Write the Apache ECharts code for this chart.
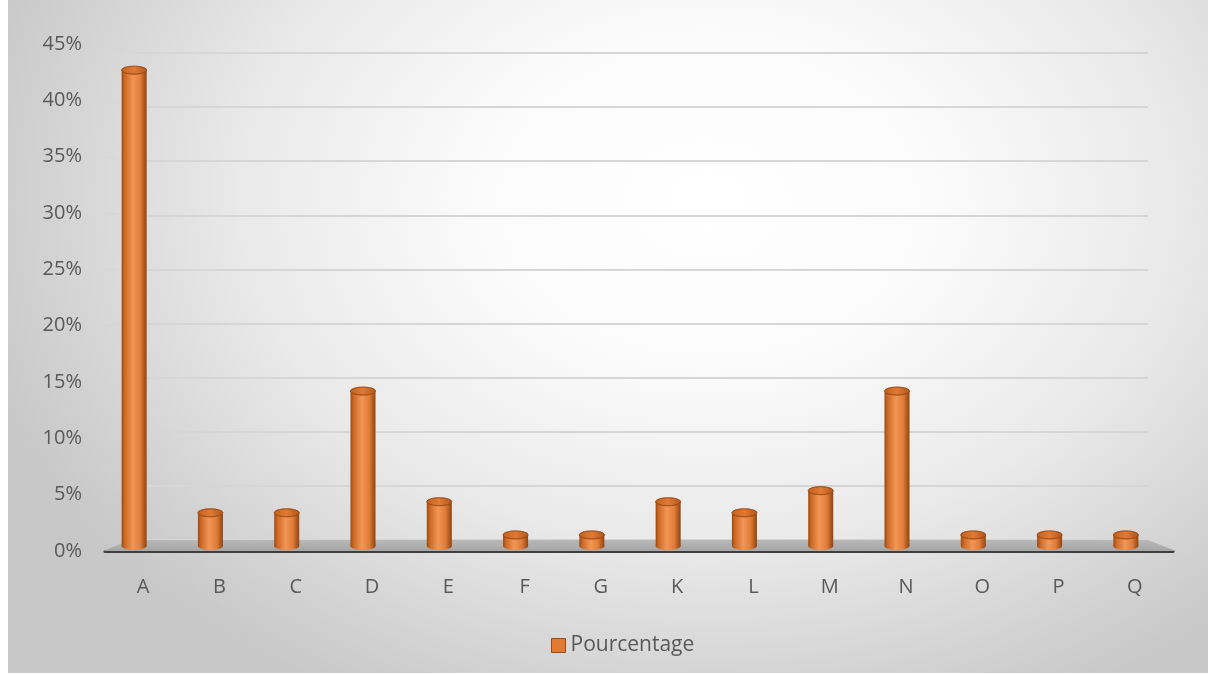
<!DOCTYPE html>
<html>
<head>
<meta charset="utf-8">
<script src="https://cdn.jsdelivr.net/npm/echarts@6/dist/echarts.min.js"></script>
<style>
html,body{margin:0;padding:0;background:#fff;}
#bg{position:absolute;left:8px;top:0;width:1200px;height:673px;
background:radial-gradient(ellipse 760px 560px at 700px 200px,#ffffff 0%,#fbfbfb 30%,#e9e9e9 62%,#d2d2d2 88%,#c8c8c8 100%);}
#chart{position:absolute;left:0;top:0;width:1208px;height:675px;}
</style>
</head>
<body>
<div id="bg"></div>
<div id="chart"></div>
<script>
const categories = ['A','B','C','D','E','F','G','K','L','M','N','O','P','Q'];
const pourcentage = [0.43,0.03,0.03,0.14,0.04,0.01,0.01,0.04,0.03,0.05,0.14,0.01,0.01,0.01];
const seriesName = 'Pourcentage';
const yMax = 0.45, yStep = 0.05;

const chart = echarts.init(document.getElementById('chart'), null, {renderer:'canvas'});
const txt = '#595959';
const font = '"Open Sans", "Noto Sans", sans-serif';

const bodyGrad = new echarts.graphic.LinearGradient(0,0,1,0,[
  {offset:0,color:'#9a4913'},{offset:0.12,color:'#cc6824'},{offset:0.45,color:'#f29656'},
  {offset:0.75,color:'#e07c38'},{offset:1,color:'#8f430e'}]);
const topGrad = new echarts.graphic.LinearGradient(0,0,1,0,[
  {offset:0,color:'#c0611f'},{offset:0.5,color:'#e07a35'},{offset:1,color:'#b0561b'}]);

function renderItem(params, api){
  const base = api.coord([api.value(0),0]);
  const top = api.coord([api.value(0),api.value(1)]);
  const w = 25, rx = w/2, ry = 4;
  const x = base[0];
  return {type:'group', children:[
    {type:'circle', x:x, y:base[1], scaleY:ry/rx, shape:{cx:0,cy:0,r:rx}, style:{fill:bodyGrad}},
    {type:'rect', shape:{x:x-rx, y:top[1], width:w, height:base[1]-top[1]}, style:{fill:bodyGrad}},
    {type:'circle', x:x, y:top[1], scaleY:ry/rx, shape:{cx:0,cy:0,r:rx}, style:{fill:topGrad, stroke:'#9a4a14', lineWidth:1}}
  ]};
}

const option = {
  animation:false,
  textStyle:{fontFamily:font},
  grid:[
    {left:105, right:35, top:44, bottom:124},
    {left:130, right:60, top:53, bottom:135},
    {left:96, right:44, top:48, bottom:129}
  ],
  xAxis:[
    {type:'category', gridIndex:0, data:categories,
     axisLine:{lineStyle:{color:'#3f3f3f', width:3}}, axisTick:{show:false},
     axisLabel:{color:txt, fontSize:20, margin:26, fontFamily:font}},
    {type:'category', gridIndex:1, data:categories, show:false},
    {type:'category', gridIndex:2, data:categories, show:false}
  ],
  yAxis:[
    {type:'value', gridIndex:0, min:0, max:yMax, interval:yStep,
     axisLine:{show:false}, axisTick:{show:false}, splitLine:{show:false},
     axisLabel:{color:txt, fontSize:20, margin:23, fontFamily:font,
       formatter:v=>Math.round(v*100)+'%'}},
    {type:'value', gridIndex:1, min:0, max:yMax, interval:yStep,
     axisLine:{show:false}, axisTick:{show:false}, axisLabel:{show:false},
     splitLine:{lineStyle:{color:'#d6d6d6', width:2}}},
    {type:'value', gridIndex:2, min:0, max:yMax, interval:yStep, show:false}
  ],
  legend:{bottom:14, left:546, icon:'rect', itemWidth:14, itemHeight:14, itemGap:5,
    textStyle:{color:txt, fontSize:21, fontFamily:font},
    data:[{name:seriesName, itemStyle:{color:'#e17a35', borderColor:'#9a4a14', borderWidth:1}}]},
  series:[{
    name:seriesName, type:'custom', xAxisIndex:2, yAxisIndex:2,
    renderItem:renderItem, itemStyle:{color:'#e17a35'},
    encode:{x:0,y:1},
    data:categories.map((c,i)=>[i,pourcentage[i]]), z:5
  }]
};
chart.setOption(option);

// decorative floor and side edges, computed from the axes
const g0 = chart.getModel().getComponent('grid',0).coordinateSystem.getRect();
const g1 = chart.getModel().getComponent('grid',1).coordinateSystem.getRect();
const graphics = [{
  type:'polygon', z:1,
  shape:{points:[[g1.x, g1.y+g1.height],[g1.x+g1.width, g1.y+g1.height],
                 [g0.x+g0.width+3, g0.y+g0.height],[g0.x-2, g0.y+g0.height]]},
  style:{fill:new echarts.graphic.LinearGradient(0,0,0,1,[{offset:0,color:'#b8b8b8'},{offset:1,color:'#a6a6a6'}])}
}];
for(let v=yStep; v<=yMax+1e-9; v+=yStep){
  const p0 = chart.convertToPixel({gridIndex:0},[0,v]);
  const p1 = chart.convertToPixel({gridIndex:1},[0,v]);
  graphics.push({type:'line', z:1, shape:{x1:g0.x, y1:p0[1], x2:g1.x, y2:p1[1]},
    style:{stroke:'#d2d2d2', lineWidth:1, lineDash:[2,2]}});
}
chart.setOption({graphic:graphics});
</script>
</body>
</html>
